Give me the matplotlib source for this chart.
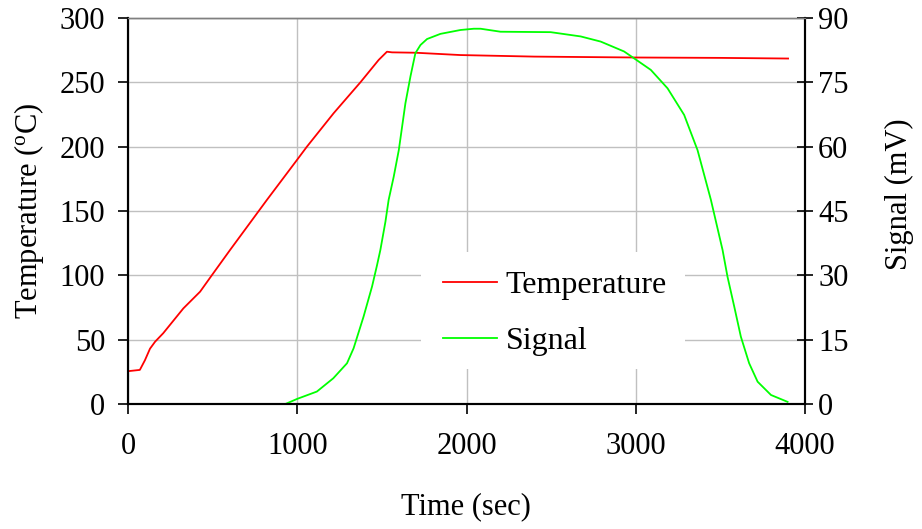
import matplotlib
matplotlib.use("Agg")
import matplotlib.pyplot as plt
from matplotlib.patches import Rectangle

plt.rcParams['font.family'] = ['Liberation Serif', 'DejaVu Serif']
plt.rcParams['mathtext.fontset'] = 'custom'
plt.rcParams['mathtext.rm'] = 'Liberation Serif'
plt.rcParams['mathtext.it'] = 'Liberation Serif:italic'

# Data
temp_time = [0, 70, 100, 130, 160, 208, 327, 426, 495, 603, 820, 998, 1057, 1215,
             1373, 1481, 1530, 1560, 1700, 1964, 2400, 3000, 3500, 3900]
temp_vals = [25.5, 26.5, 34, 43, 48.4, 55, 74.3, 87.3, 100, 119.7, 158.5, 189.6, 200, 226,
             250, 267.4, 273.8, 273.3, 273, 271.2, 270, 269.3, 269, 268.5]

sig_time = [0, 930, 1000, 1116, 1213, 1294, 1333, 1392, 1442, 1471, 1491, 1521, 1540, 1570,
            1600, 1639, 1669, 1698, 1728, 1767, 1846, 1964, 2043, 2083, 2201, 2497, 2675,
            2793, 2931, 2990, 3089, 3188, 3286, 3365, 3444, 3513, 3542, 3582, 3621, 3670,
            3720, 3799, 3897]
sig_vals = [0, 0, 1.2, 2.9, 6.0, 9.5, 13.0, 20.4, 27.4, 32.3, 35.9, 42.5, 47.6, 53.0,
            59.2, 70.1, 76.4, 81.8, 83.7, 85.1, 86.3, 87.2, 87.5, 87.5, 86.8, 86.7, 85.7,
            84.5, 82.2, 80.6, 77.9, 73.6, 67.4, 59.2, 47.6, 35.9, 29.7, 22.7, 15.7, 9.5,
            5.2, 2.1, 0.5]

x_ticks = [0, 1000, 2000, 3000, 4000]
temp_ticks = [0, 50, 100, 150, 200, 250, 300]
sig_ticks = [0, 15, 30, 45, 60, 75, 90]

W, H = 922, 529
fig = plt.figure(figsize=(W / 100, H / 100), dpi=100)
L, R, B, T = 128, 805, 404, 18
ax = fig.add_axes([L / W, 1 - B / H, (R - L) / W, (B - T) / H])
ax2 = ax.twinx()

ax.set_xlim(0, 4000)
ax.set_ylim(0, 300)
ax2.set_ylim(0, 90)
ax.set_xticks(x_ticks)
ax.set_yticks(temp_ticks)
ax2.set_yticks(sig_ticks)

ax.set_axisbelow(True)
ax.grid(True, color='#c0c0c0', linewidth=1.0)

# white legend background covering the grid
ax.add_patch(Rectangle((1734, 27), 3290 - 1734, 118 - 27, facecolor='white',
                       edgecolor='none', zorder=1))

l1, = ax.plot(temp_time, temp_vals, color='#ff0000', linewidth=1.3, zorder=2,
              label='Temperature')
l2, = ax2.plot(sig_time, sig_vals, color='#00ff00', linewidth=1.3, label='Signal')

for a in (ax, ax2):
    for s in a.spines.values():
        s.set_linewidth(1.5)
        s.set_color('black')
    a.spines['top'].set_color('#808080')
    a.spines['top'].set_linewidth(1.0)

ax.tick_params(axis='both', direction='out', length=7.5, width=1.2, labelsize=22,
               colors='black')
ax.tick_params(axis='x', pad=13)
ax.tick_params(axis='y', pad=9)
ax2.tick_params(axis='y', direction='inout', length=11, width=1.2, labelsize=22, pad=4)

fig.text(29 / W, 1 - 211 / H, r'Temperature ($\mathrm{^{o}}$C)', rotation=90,
         ha='center', va='center', fontsize=22)
fig.text(899 / W, 1 - 194 / H, 'Signal (mV)', rotation=90,
         ha='center', va='center', fontsize=22)
fig.text(466 / W, 1 - 507 / H, 'Time (sec)', ha='center', va='center', fontsize=22)

ax2.legend(handles=[l1, l2], loc='center left',
           bbox_to_anchor=((443 - L) / (R - L), (B - 313.5) / (B - T)),
           frameon=False, fontsize=23, handlelength=1.69, handletextpad=0.28,
           labelspacing=0.84, borderpad=0, borderaxespad=0)

fig.savefig('out.png', dpi=100)
